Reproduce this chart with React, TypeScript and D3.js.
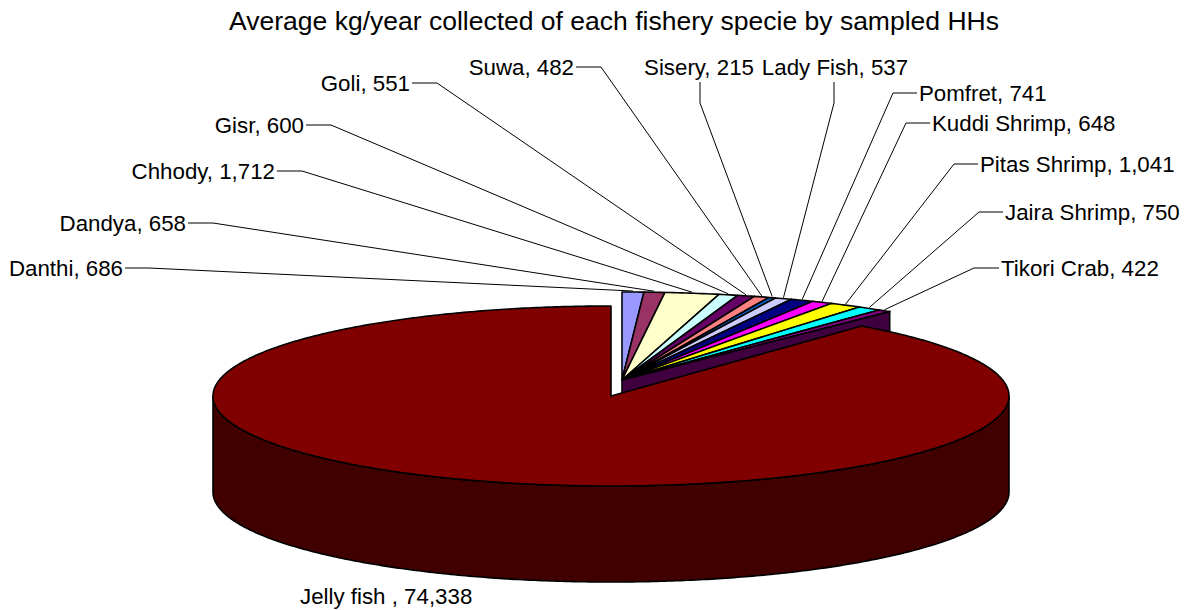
import React from "react";
import * as d3 from "d3";

const title = "Average kg/year collected of each fishery specie by sampled HHs";
const categories = [
  "Danthi", "Dandya", "Chhody", "Gisr", "Goli", "Suwa", "Sisery", "Lady Fish",
  "Pomfret", "Kuddi Shrimp", "Pitas Shrimp", "Jaira Shrimp", "Tikori Crab", "Jelly fish ",
];
const values = [686, 658, 1712, 600, 551, 482, 215, 537, 741, 648, 1041, 750, 422, 74338];
const colors = [
  "#9999FF", "#993366", "#FFFFCC", "#CCFFFF", "#660066", "#FF8080", "#0066CC", "#CCCCFF",
  "#000080", "#FF00FF", "#FFFF00", "#00FFFF", "#800080", "#800000",
];
const sideColors = [
  "#4d4d99", "#4d1a33", "#999966", "#669999", "#330033", "#994d4d", "#003366", "#666699",
  "#000040", "#800080", "#808000", "#008080", "#400040", "#400000",
];

// layout: label anchor (text), leader start and elbow point
type LabelLayout = { tx: number; ty: number; anchor: "start" | "end" | "middle"; lx?: number; ly?: number; ex?: number; ey?: number };
const labelLayout: LabelLayout[] = [
  { tx: 123, ty: 268, anchor: "end", lx: 125, ly: 268, ex: 149, ey: 268 },
  { tx: 186, ty: 223, anchor: "end", lx: 188, ly: 223, ex: 213, ey: 223 },
  { tx: 275, ty: 171, anchor: "end", lx: 277, ly: 171, ex: 302, ey: 171 },
  { tx: 304, ty: 125, anchor: "end", lx: 306, ly: 125, ex: 331, ey: 125 },
  { tx: 410, ty: 83, anchor: "end", lx: 412, ly: 83, ex: 437, ey: 83 },
  { tx: 574, ty: 67, anchor: "end", lx: 576, ly: 67, ex: 601, ey: 67 },
  { tx: 699, ty: 67, anchor: "middle", lx: 700, ly: 82, ex: 700, ey: 103 },
  { tx: 835, ty: 67, anchor: "middle", lx: 834, ly: 82, ex: 834, ey: 103 },
  { tx: 919, ty: 93, anchor: "start", lx: 917, ly: 93, ex: 893, ey: 93 },
  { tx: 932, ty: 123, anchor: "start", lx: 930, ly: 123, ex: 906, ey: 123 },
  { tx: 980, ty: 164, anchor: "start", lx: 978, ly: 164, ex: 954, ey: 164 },
  { tx: 1005, ty: 212, anchor: "start", lx: 1003, ly: 212, ex: 979, ey: 212 },
  { tx: 1001, ty: 268, anchor: "start", lx: 999, ly: 268, ex: 974, ey: 268 },
  { tx: 300, ty: 596, anchor: "start" },
];

const W = 1197;
const H = 610;
// pie geometry
const bigPie = { cx: 611, cy: 396, rx: 398, ry: 90 };
const smallPie = { cx: 622, cy: 380, rx: 425, ry: 88 };
const depth = 96;
const fmt = d3.format(",");

type Geo = { cx: number; cy: number; rx: number; ry: number };
const pt = (g: Geo, a: number, dy = 0): [number, number] => [g.cx + g.rx * Math.sin(a), g.cy - g.ry * Math.cos(a) + dy];
const arcPts = (g: Geo, a0: number, a1: number, dy = 0) => {
  const n = Math.max(2, Math.ceil(Math.abs(a1 - a0) / 0.01));
  return d3.range(n + 1).map((i) => pt(g, a0 + ((a1 - a0) * i) / n, dy));
};
const line = d3.line<[number, number]>();

export default function App() {
  const pie = d3.pie<number>().sort(null).startAngle(0).endAngle(2 * Math.PI);
  const arcs = pie(values);
  const last = arcs.length - 1;
  const smallArcs = arcs.slice(0, last);
  const big = arcs[last];
  const tik = smallArcs[smallArcs.length - 1];

  const smallTops = smallArcs.map((a, i) => {
    const g = smallPie;
    const p = [[g.cx, g.cy] as [number, number], ...arcPts(g, a.startAngle, a.endAngle)];
    return <path key={"t" + i} d={line(p) + "Z"} fill={colors[i]} stroke="#000" strokeWidth={1.6} strokeLinejoin="round" />;
  });

  const tikEnd = [
    [smallPie.cx, smallPie.cy] as [number, number],
    pt(smallPie, tik.endAngle),
    pt(smallPie, tik.endAngle, depth),
    [smallPie.cx, smallPie.cy + depth] as [number, number],
  ];

  const s0 = Math.max(big.startAngle, Math.PI / 2);
  const s1 = Math.min(big.endAngle, (3 * Math.PI) / 2);
  const bigSide = [...arcPts(bigPie, s0, s1), ...arcPts(bigPie, s1, s0, depth)];
  const bigTop = [[bigPie.cx, bigPie.cy] as [number, number], ...arcPts(bigPie, big.startAngle, big.endAngle)];

  const leaders = arcs.map((a, i) => {
    const L = labelLayout[i];
    if (L.ex === undefined) return null;
    const mid = (a.startAngle + a.endAngle) / 2;
    const rim = pt(smallPie, mid);
    const p: [number, number][] = [[L.lx!, L.ly!], [L.ex!, L.ey!], [rim[0], rim[1] - 1]];
    return <path key={"l" + i} d={line(p)!} fill="none" stroke="#000" strokeWidth={1} />;
  });

  const labels = arcs.map((a, i) => {
    const L = labelLayout[i];
    return (
      <text key={"x" + i} x={L.tx} y={L.ty} dy="0.36em" textAnchor={L.anchor} fontSize={22.3} fill="#000">
        {`${categories[i]}, ${fmt(values[i])}`}
      </text>
    );
  });

  return (
    <svg width={W} height={H} style={{ position: "absolute", left: 0, top: 0, background: "#fff" }}
      fontFamily="'Liberation Sans', Arial, sans-serif">
      <text x={614} y={20} dy="0.36em" textAnchor="middle" fontSize={26.5}>{title}</text>
      {leaders}
      {smallTops}
      <path d={line(tikEnd) + "Z"} fill={sideColors[last - 1]} stroke="#000" strokeWidth={1.6} />
      <path d={line(bigSide as [number, number][]) + "Z"} fill={sideColors[last]} stroke="#000" strokeWidth={1.6} />
      <path d={line(bigTop) + "Z"} fill={colors[last]} stroke="#000" strokeWidth={1.6} strokeLinejoin="round" />
      {labels}
    </svg>
  );
}
